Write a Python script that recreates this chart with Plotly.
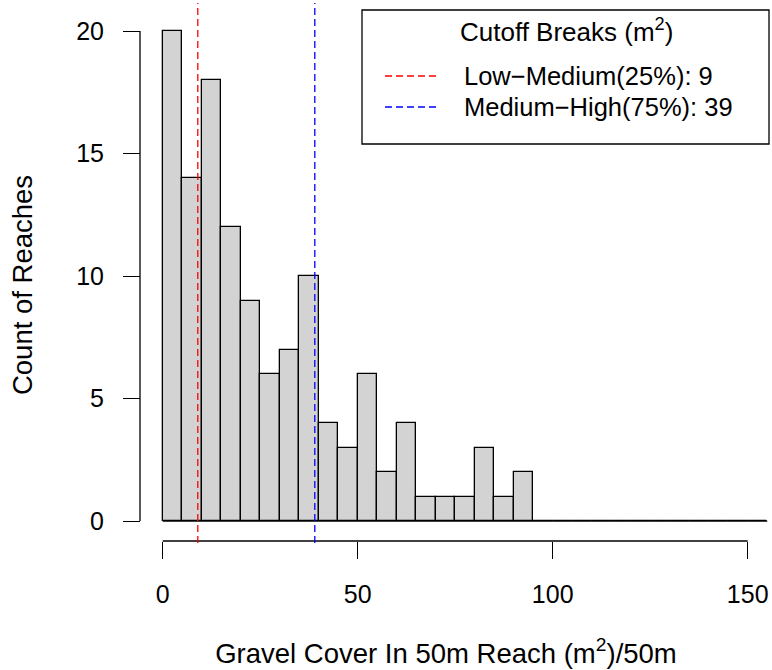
import plotly.graph_objects as go

# ---- data ----
bin_width = 5
bin_start = 0
counts = [20, 14, 18, 12, 9, 6, 7, 10, 4, 3, 6, 2, 4, 1, 1, 1, 3, 1, 2,
          0, 0, 0, 0, 0, 0, 0, 0, 0, 0, 0, 0]
x_ticks = [0, 50, 100, 150]
y_ticks = [0, 5, 10, 15, 20]
cutoff_values = [9, 39]
cutoff_labels = ["Low\u2212Medium(25%): 9", "Medium\u2212High(75%): 39"]
cutoff_colors = ["#FF0000", "#0000FF"]
legend_title = "Cutoff Breaks (m<sup>2</sup>)"
x_title = "Gravel Cover In 50m Reach (m<sup>2</sup>)/50m"
y_title = "Count of Reaches"

edges = [bin_start + i * bin_width for i in range(len(counts) + 1)]
centers = [e + bin_width / 2 for e in edges[:-1]]

W, H = 772, 670
FONT = "Liberation Sans, Arial, sans-serif"

def px(xp):
    return xp / W

def py(yp):
    return 1 - yp / H

# layout geometry (pixels)
x_dom = (120, 772)
y_dom = (0, 570)
x0_px, ppx = 162.7, 3.9      # pixel of x=0, px per unit
y0_px, ppy = 521.0, 24.5     # pixel of y=0, px per unit
xaxis_px = 541               # y pixel of x axis line
yaxis_px = 140               # x pixel of y axis line

x_range = [(x_dom[0] - x0_px) / ppx, (x_dom[1] - x0_px) / ppx]
y_range = [(y0_px - y_dom[1]) / ppy, (y0_px - y_dom[0]) / ppy]

fig = go.Figure()
fig.add_trace(go.Bar(
    x=centers, y=counts, width=bin_width,
    marker=dict(color="#D3D3D3", line=dict(color="black", width=1.3)),
    showlegend=False, hoverinfo="x+y",
))

shapes = []
# baseline of histogram (zero-count bins)
shapes.append(dict(type="line", xref="x", yref="y", x0=edges[0], x1=edges[-1],
                   y0=0, y1=0, line=dict(color="black", width=1.3)))
# axis lines (R style, spanning only the tick range)
shapes.append(dict(type="line", xref="x", yref="paper", x0=x_ticks[0], x1=x_ticks[-1],
                   y0=py(xaxis_px), y1=py(xaxis_px), line=dict(color="black", width=1.3)))
shapes.append(dict(type="line", xref="paper", yref="y", x0=px(yaxis_px), x1=px(yaxis_px),
                   y0=y_ticks[0], y1=y_ticks[-1], line=dict(color="black", width=1.3)))
# cutoff lines
for v, c in zip(cutoff_values, cutoff_colors):
    shapes.append(dict(type="line", xref="x", yref="paper", x0=v, x1=v,
                       y0=py(xaxis_px + 2), y1=py(3),
                       line=dict(color=c, width=1.3, dash="7px,4px")))

# manual legend box
shapes.append(dict(type="rect", xref="paper", yref="paper",
                   x0=px(362), x1=px(769), y0=py(144), y1=py(10),
                   line=dict(color="black", width=1.3), fillcolor="white", layer="above"))
annotations = [dict(text=legend_title, xref="paper", yref="paper", x=px(566), y=py(30),
                    showarrow=False, xanchor="center", yanchor="middle",
                    font=dict(family=FONT, size=26, color="black"))]
row_y = [76, 107]
for lab, c, ry in zip(cutoff_labels, cutoff_colors, row_y):
    shapes.append(dict(type="line", xref="paper", yref="paper", x0=px(385), x1=px(437),
                       y0=py(ry), y1=py(ry), line=dict(color=c, width=1.3, dash="7px,4px")))
    annotations.append(dict(text=lab, xref="paper", yref="paper", x=px(462), y=py(ry),
                            showarrow=False, xanchor="left", yanchor="middle",
                            font=dict(family=FONT, size=25.5, color="black")))

fig.update_layout(
    width=W, height=H,
    margin=dict(l=0, r=0, t=0, b=0),
    plot_bgcolor="white", paper_bgcolor="white",
    bargap=0,
    shapes=shapes,
    annotations=annotations,
    font=dict(family=FONT, color="black"),
    xaxis=dict(
        domain=[px(x_dom[0]), px(x_dom[1])], range=x_range,
        anchor="free", position=py(xaxis_px),
        showgrid=False, zeroline=False, showline=False,
        tickmode="array", tickvals=x_ticks,
        ticks="outside", ticklen=17, tickwidth=1.3, tickcolor="black",
        ticklabelstandoff=14,
        tickfont=dict(family=FONT, size=25, color="black"),
        title=dict(text=x_title, font=dict(family=FONT, size=27.5, color="black"), standoff=36),
    ),
    yaxis=dict(
        domain=[py(y_dom[1]), py(y_dom[0])], range=y_range,
        anchor="free", position=px(yaxis_px),
        showgrid=False, zeroline=False, showline=False,
        tickmode="array", tickvals=y_ticks,
        ticks="outside", ticklen=17, tickwidth=1.3, tickcolor="black",
        ticklabelstandoff=14,
        tickfont=dict(family=FONT, size=25, color="black"),
        title=dict(text=y_title, font=dict(family=FONT, size=27.5, color="black"), standoff=34),
    ),
)

fig.write_html("out.html")
